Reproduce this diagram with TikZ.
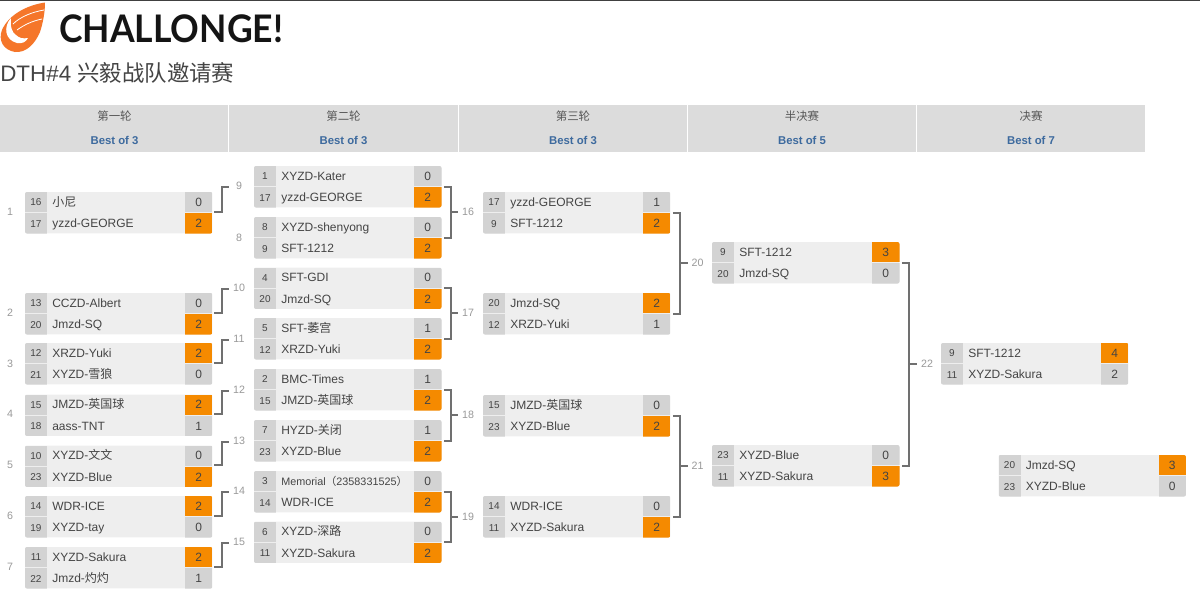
\documentclass[tikz,border=0pt]{standalone}
\usepackage{fontspec}
\setmainfont{Liberation Sans}
\newfontfamily\cjk{Noto Sans CJK SC}
\newfontfamily\logofont{Lato}
\definecolor{cellbg}{HTML}{EEEEEE}
\definecolor{cellgrey}{HTML}{D3D3D3}
\definecolor{winner}{HTML}{F58A00}
\definecolor{headbg}{HTML}{DCDCDC}
\definecolor{conn}{HTML}{707070}
\definecolor{labgrey}{HTML}{999999}
\definecolor{txt}{HTML}{444444}
\definecolor{bluet}{HTML}{3D6A9E}
\definecolor{wing}{HTML}{F5762A}
\tikzset{
  x=0.75pt,y=-0.75pt,
  matchbg/.style={draw=none,fill=cellbg,rounded corners=1.5pt,minimum width=140.6pt,minimum height=31.1pt,inner sep=0pt,outer sep=0pt},
  seedtxt/.style={inner sep=0pt,anchor=base,font=\fontsize{7.5pt}{8pt}\selectfont,text=txt},
  nametxt/.style={inner sep=0pt,anchor=base west,font=\fontsize{9pt}{10pt}\selectfont,text=txt},
  scoretxt/.style={inner sep=0pt,anchor=base,font=\fontsize{9pt}{10pt}\selectfont,text=txt},
  roundlab/.style={inner sep=0pt,font=\fontsize{8pt}{9pt}\selectfont,text=labgrey},
  connline/.style={draw=conn,line width=1.5pt,line cap=butt,line join=miter},
  headtxt/.style={inner sep=0pt,font=\cjk\fontsize{8.6pt}{10pt}\selectfont,text=txt!90!white},
  besttxt/.style={inner sep=0pt,font=\bfseries\fontsize{8.5pt}{10pt}\selectfont,text=bluet},
}
\newcommand{\mymatch}[9]{%
  \node[matchbg,anchor=north west] (#1) at (#2,#3) {};
  \begin{scope}[shift={(#2,#3)}]
    \begin{scope}
      \clip[rounded corners=1.5pt] (0,0) rectangle (187.5,41.5);
      \fill[cellgrey] (0,0) rectangle (22,20.4);
      \fill[cellgrey] (0,21.2) rectangle (22,41.5);
      \ifnum#6>#9\relax
        \fill[winner] (160,0) rectangle (187.5,20.4);
        \fill[cellgrey] (160,21.2) rectangle (187.5,41.5);
      \else
        \fill[cellgrey] (160,0) rectangle (187.5,20.4);
        \fill[winner] (160,21.2) rectangle (187.5,41.5);
      \fi
    \end{scope}
    \node[seedtxt] (#1sa) at (11,13.8) {#4};
    \node[nametxt] (#1na) at (27,14.3) {#5};
    \node[scoretxt] (#1va) at (173.7,14.3) {#6};
    \node[seedtxt] (#1sb) at (11,35.2) {#7};
    \node[nametxt] (#1nb) at (27,35.6) {#8};
    \node[scoretxt] (#1vb) at (173.7,35.6) {#9};
  \end{scope}
}
\newcommand{\elbow}[2]{%
  \draw[connline] ([shift={(2,-1)}]#1.east) -- ++(7.5,0) |- ([shift={(-10,1)}]#2.center);
}
\newcommand{\bracket}[3]{%
  \draw[connline] ([shift={(2.5,0)}]#1.east) -- ++(7.5,0) coordinate (#3v) |- ([shift={(2.5,0)}]#2.east);
  \draw[connline] (#3v |- #3.center) -- ([shift={(-10,0)}]#3.center);
}
\begin{document}
\begin{tikzpicture}
\useasboundingbox (0,0) rectangle (1200,603);
\fill[white] (0,0) rectangle (1200,603);
\fill[black!75] (0,0) rectangle (1200,1.4);
% logo wing
\fill[wing] (45,2.5) .. controls (28,5) and (9,14) .. (2,30)
  .. controls (-2,40) and (3,50) .. (15,52)
  .. controls (26,53) and (35,44) .. (40,32)
  .. controls (43,23) and (45,12) .. (45,2.5) -- cycle;
\draw[white,line width=0.6pt] (13,24) .. controls (20,17) and (32,12) .. (44,10);
\draw[white,line width=0.6pt] (17,30) .. controls (24,25) and (32,21) .. (42,19);
\fill[white] (11,18) .. controls (3,27) and (5,40) .. (17,43)
  .. controls (22,44) and (26,42) .. (28,38)
  .. controls (23,39) and (19,38) .. (16,35)
  .. controls (12,33) and (10,26) .. (11,18) -- cycle;
\node[inner sep=0pt,anchor=base west,xscale=0.935,font=\logofont\bfseries\fontsize{28.5pt}{30pt}\selectfont,text=black!92] (logo) at (59,42.5) {CHALLONGE!};
\node[inner sep=0pt,anchor=base west,font=\fontsize{16.8pt}{18pt}\selectfont,text=txt] (title) at (0,81) {DTH\#4 {\cjk 兴毅战队邀请赛}};
% header
\fill[headbg] (0,105) rectangle (1145,152);
\foreach \xs in {228.5,458,687,916} \fill[white] (\xs-0.5,105) rectangle (\xs+0.5,152);
\node[headtxt] (h1) at (114.5,116.5) {第一轮};
\node[headtxt] (h2) at (343.5,116.5) {第二轮};
\node[headtxt] (h3) at (573,116.5) {第三轮};
\node[headtxt] (h4) at (802,116.5) {半决赛};
\node[headtxt] (h5) at (1031,116.5) {决赛};
\node[besttxt] (b1) at (114.5,140) {Best of 3};
\node[besttxt] (b2) at (343.5,140) {Best of 3};
\node[besttxt] (b3) at (573,140) {Best of 3};
\node[besttxt] (b4) at (802,140) {Best of 5};
\node[besttxt] (b5) at (1031,140) {Best of 7};
% round 1
\mymatch{ma}{25}{192}{16}{{\cjk 小尼}}{0}{17}{yzzd-GEORGE}{2}
\mymatch{mb}{25}{293}{13}{CCZD-Albert}{0}{20}{Jmzd-SQ}{2}
\mymatch{mc}{25}{343}{12}{XRZD-Yuki}{2}{21}{XYZD-{\cjk 雪狼}}{0}
\mymatch{md}{25}{394.5}{15}{JMZD-{\cjk 英国球}}{2}{18}{aass-TNT}{1}
\mymatch{me}{25}{445.5}{10}{XYZD-{\cjk 文文}}{0}{23}{XYZD-Blue}{2}
\mymatch{mf}{25}{496}{14}{WDR-ICE}{2}{19}{XYZD-tay}{0}
\mymatch{mg}{25}{547}{11}{XYZD-Sakura}{2}{22}{Jmzd-{\cjk 灼灼}}{1}
% round 2
\mymatch{na}{254}{166}{1}{XYZD-Kater}{0}{17}{yzzd-GEORGE}{2}
\mymatch{nb}{254}{217}{8}{XYZD-shenyong}{0}{9}{SFT-1212}{2}
\mymatch{nc}{254}{267.5}{4}{SFT-GDI}{0}{20}{Jmzd-SQ}{2}
\mymatch{nd}{254}{318}{5}{SFT-{\cjk 萎宫}}{1}{12}{XRZD-Yuki}{2}
\mymatch{ne}{254}{369}{2}{BMC-Times}{1}{15}{JMZD-{\cjk 英国球}}{2}
\mymatch{nf}{254}{420}{7}{HYZD-{\cjk 关闭}}{1}{23}{XYZD-Blue}{2}
\mymatch{ng}{254}{471}{3}{\fontsize{8.1pt}{9pt}\selectfont Memorial{\cjk （}2358331525{\cjk ）}}{0}{14}{WDR-ICE}{2}
\mymatch{nh}{254}{521.5}{6}{XYZD-{\cjk 深路}}{0}{11}{XYZD-Sakura}{2}
% round 3
\mymatch{pa}{483}{192}{17}{yzzd-GEORGE}{1}{9}{SFT-1212}{2}
\mymatch{pb}{483}{293}{20}{Jmzd-SQ}{2}{12}{XRZD-Yuki}{1}
\mymatch{pc}{483}{395}{15}{JMZD-{\cjk 英国球}}{0}{23}{XYZD-Blue}{2}
\mymatch{pd}{483}{496}{14}{WDR-ICE}{0}{11}{XYZD-Sakura}{2}
% semi
\mymatch{sa}{712}{242}{9}{SFT-1212}{3}{20}{Jmzd-SQ}{0}
\mymatch{sb}{712}{445}{23}{XYZD-Blue}{0}{11}{XYZD-Sakura}{3}
% final and third place
\mymatch{fa}{941}{343}{9}{SFT-1212}{4}{11}{XYZD-Sakura}{2}
\mymatch{ta}{998.5}{455}{20}{Jmzd-SQ}{3}{23}{XYZD-Blue}{0}
% round labels
\node[roundlab] (l1) at (10,212) {1};
\node[roundlab] (l2) at (10,313) {2};
\node[roundlab] (l3) at (10,364) {3};
\node[roundlab] (l4) at (10,414) {4};
\node[roundlab] (l5) at (10,465) {5};
\node[roundlab] (l6) at (10,516) {6};
\node[roundlab] (l7) at (10,567) {7};
\node[roundlab] (l9) at (239,186) {9};
\node[roundlab] (l8) at (239,237.5) {8};
\node[roundlab] (l10) at (239,288) {10};
\node[roundlab] (l11) at (239,338.5) {11};
\node[roundlab] (l12) at (239,389.5) {12};
\node[roundlab] (l13) at (239,440.5) {13};
\node[roundlab] (l14) at (239,491) {14};
\node[roundlab] (l15) at (239,542) {15};
\node[roundlab] (l16) at (468,212) {16};
\node[roundlab] (l17) at (468,313) {17};
\node[roundlab] (l18) at (468,415) {18};
\node[roundlab] (l19) at (468,516.5) {19};
\node[roundlab] (l20) at (697.5,263) {20};
\node[roundlab] (l21) at (697.5,466) {21};
\node[roundlab] (l22) at (927,363.5) {22};
% connectors
\elbow{ma}{l9}
\elbow{mb}{l10}
\elbow{mc}{l11}
\elbow{md}{l12}
\elbow{me}{l13}
\elbow{mf}{l14}
\elbow{mg}{l15}
\bracket{na}{nb}{l16}
\bracket{nc}{nd}{l17}
\bracket{ne}{nf}{l18}
\bracket{ng}{nh}{l19}
\bracket{pa}{pb}{l20}
\bracket{pc}{pd}{l21}
\bracket{sa}{sb}{l22}
\end{tikzpicture}
\end{document}
